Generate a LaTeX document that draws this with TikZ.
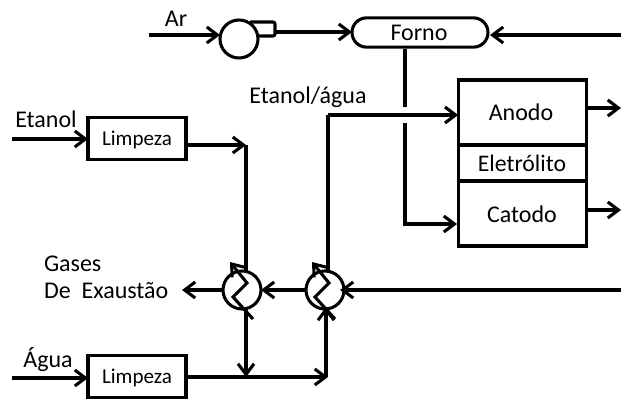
\documentclass[tikz,border=0pt]{standalone}
\usepackage{fontspec}
\setmainfont{Carlito}
\usetikzlibrary{arrows.meta}
\tikzset{
  every node/.style={inner sep=0pt,outer sep=0pt},
  ln/.style={line width=2.3pt,black},
  tipb/.tip={Straight Barb[length=8pt,width=12pt,line width=2.3pt]},
  ar/.style={ln,-tipb},
  boxx/.style={draw,line width=2.3pt,inner sep=0pt},
  txt/.style={font=\fontsize{18pt}{18pt}\selectfont},
  txtm/.style={font=\fontsize{17.8pt}{18pt}\selectfont},
  txts/.style={font=\fontsize{15.8pt}{16pt}\selectfont},
  hx/.style={circle,draw,line width=2.3pt,minimum size=28.5pt,fill=none}
}
\begin{document}
\begin{tikzpicture}[x=0.75pt,y=-0.75pt]
\useasboundingbox (0,0) rectangle (621,399);
% labels
\node[txt] (tAr) at (176,19) {Ar};
\node[txt] (tEtanol) at (46,119) {Etanol};
\node[txt] (tEA) at (308,97) {Etanol/água};
\node[txt,anchor=west] (tGases) at (44,264) {Gases};
\node[txt,anchor=west] (tDe) at (44,291) {De\ \ Exaustão};
\node[txt] (tAgua) at (48,360) {Água};
% blower
\coordinate (arIn) at (149,35);
\node[circle,draw,line width=2.3pt,minimum size=28.5pt] (blower) at (239,39) {};
\coordinate (b1) at (250,22);
\coordinate (b2) at (275,22);
\coordinate (b3) at (275,36);
\coordinate (b4) at (258,36);
\draw[ln,rounded corners=1.5pt] (b1) -- (b2) -- (b3) -- (b4);
\coordinate (bOut) at (276,32);
% forno
\node[draw,line width=2.3pt,rounded corners=11pt,minimum width=102pt,minimum height=22pt] (forno) at (420,32.5) {};
\node[txt] (tForno) at (419,33) {Forno};
\coordinate (fornoW) at (352,32);
\draw[ar] (bOut) -- (fornoW);
\draw[ar] (arIn) -- (220,35);
\coordinate (rIn) at (621,35);
\coordinate (fornoE) at (490,35);
\draw[ar] (rIn) -- (fornoE);
% cell
\node[boxx,minimum width=96.5pt,minimum height=48.75pt] (anodo) at (522.5,112.5) {};
\node[boxx,minimum width=96.5pt,minimum height=27pt] (ele) at (522.5,163) {};
\node[boxx,minimum width=96.5pt,minimum height=48.75pt] (catodo) at (522.5,213.5) {};
\node[txt] at (521,112) {Anodo};
\node[txtm] at (522,163) {Eletrólito};
\node[txt] at (522,214) {Catodo};
\coordinate (aOut) at (621,108);
\coordinate (cOut) at (621,210);
\draw[ar] (anodo.east |- aOut) -- (aOut);
\draw[ar] (catodo.east |- cOut) -- (cOut);
% forno to cathode
\coordinate (fa) at (405,49);
\coordinate (fb) at (405,107);
\coordinate (fc) at (405,123);
\coordinate (fd) at (405,224);
\coordinate (fe) at (457,224);
\draw[ln] (fa) -- (fb);
\draw[ar] (fc) -- (fd) -- (fe);
% cleaners
\node[boxx,minimum width=73.5pt,minimum height=31pt] (limp1) at (137,138.5) {};
\node[txts] at (137,139.5) {Limpeza};
\node[boxx,minimum width=73.5pt,minimum height=31pt] (limp2) at (137,376.5) {};
\node[txts] at (137,378) {Limpeza};
\coordinate (etIn) at (12,139);
\coordinate (agIn) at (12,378);
\draw[ar] (etIn) -- (limp1.west |- etIn);
\draw[ar] (agIn) -- (limp2.west |- agIn);
% heat exchangers
\node[hx] (hx1) at (242,290) {};
\node[hx] (hx2) at (325,290) {};
\draw[ar] (253,319) -- (233,297) -- (247,283) -- (230,262);
\draw[ar] (335,319) -- (315,297) -- (329,283) -- (312,262);
% flows
\coordinate (j1) at (246,145);
\coordinate (j2) at (246,377);
\coordinate (j3) at (328,377);
\coordinate (j4) at (328,115);
\draw[ar] (limp1.east |- j1) -- (j1);
\draw[ln] (j1) -- (246,272);
\draw[ar] (246,310) -- (j2);
\draw[ar] (limp2.east |- j2) -- (j3);
\draw[ar] (326,377) -- (326,307);
\draw[ln] (328,270) -- (j4);
\draw[ar] (j4) -- (anodo.west |- j4);
\draw[ar] (hx1.west) -- (182,290);
\draw[ar] (hx2.west) -- (hx1.east);
\coordinate (rIn2) at (621,290);
\draw[ar] (rIn2) -- (340,290);
\end{tikzpicture}
\end{document}
